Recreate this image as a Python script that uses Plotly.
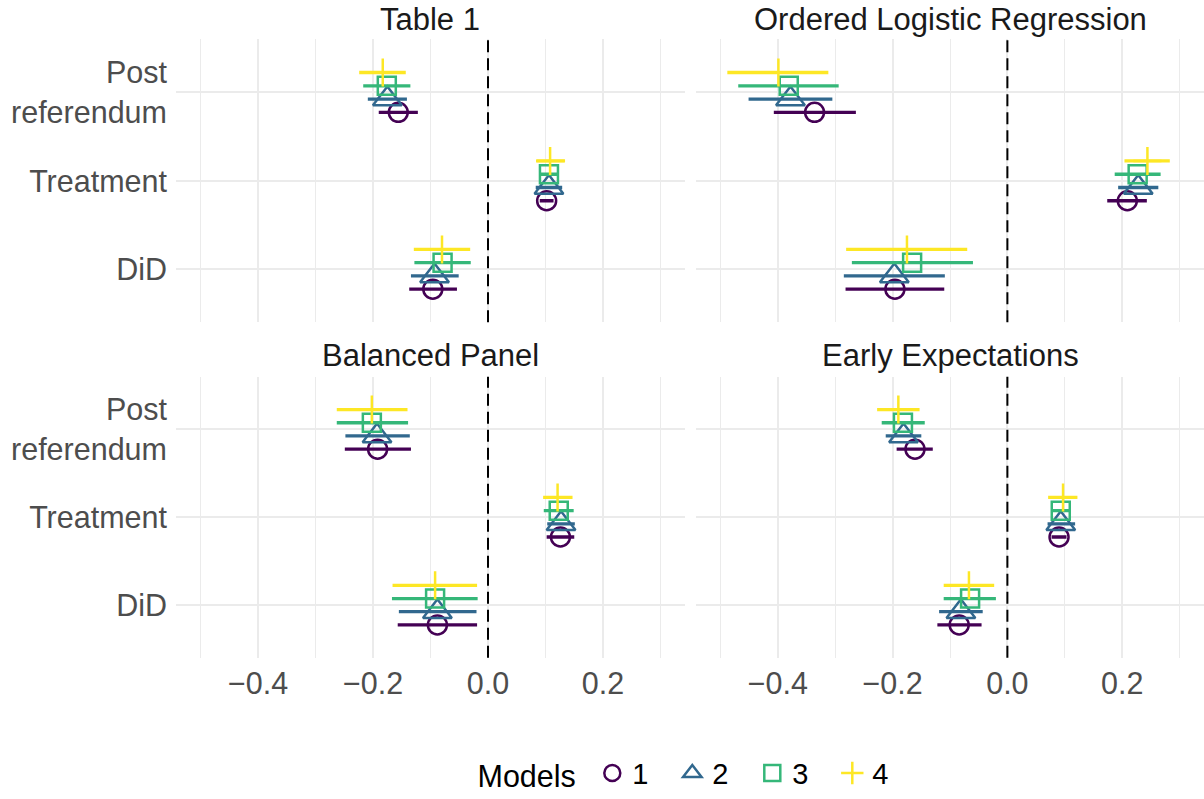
import plotly.graph_objects as go

# ---------------- data ----------------
categories = ["DiD", "Treatment", "Post<br>referendum"]   # bottom -> top
models = ["1", "2", "3", "4"]
panel_titles = ["Table 1", "Ordered Logistic Regression", "Balanced Panel", "Early Expectations"]

# each row = model, columns = [DiD, Treatment, Post referendum]
table1_est = [[-0.096, 0.102, -0.156], [-0.093, 0.106, -0.175], [-0.079, 0.106, -0.176], [-0.080, 0.108, -0.183]]
table1_lo = [[-0.137, 0.090, -0.190], [-0.134, 0.083, -0.209], [-0.128, 0.089, -0.217], [-0.129, 0.084, -0.224]]
table1_hi = [[-0.054, 0.114, -0.122], [-0.051, 0.129, -0.141], [-0.030, 0.123, -0.135], [-0.031, 0.134, -0.143]]

olr_est = [[-0.196, 0.209, -0.336], [-0.197, 0.228, -0.378], [-0.166, 0.227, -0.381], [-0.175, 0.244, -0.399]]
olr_lo = [[-0.282, 0.174, -0.407], [-0.285, 0.193, -0.451], [-0.271, 0.187, -0.469], [-0.281, 0.204, -0.488]]
olr_hi = [[-0.110, 0.243, -0.264], [-0.109, 0.263, -0.305], [-0.060, 0.267, -0.294], [-0.070, 0.283, -0.312]]

balanced_est = [[-0.088, 0.126, -0.192], [-0.088, 0.127, -0.193], [-0.092, 0.123, -0.202], [-0.092, 0.121, -0.202]]
balanced_lo = [[-0.157, 0.102, -0.249], [-0.155, 0.103, -0.248], [-0.167, 0.097, -0.263], [-0.166, 0.096, -0.263]]
balanced_hi = [[-0.019, 0.150, -0.134], [-0.020, 0.151, -0.136], [-0.018, 0.149, -0.139], [-0.019, 0.147, -0.140]]

early_est = [[-0.084, 0.090, -0.161], [-0.081, 0.093, -0.181], [-0.065, 0.093, -0.182], [-0.067, 0.097, -0.190]]
early_lo = [[-0.122, 0.077, -0.193], [-0.119, 0.070, -0.212], [-0.111, 0.076, -0.219], [-0.111, 0.071, -0.227]]
early_hi = [[-0.045, 0.103, -0.130], [-0.043, 0.118, -0.150], [-0.020, 0.110, -0.144], [-0.023, 0.122, -0.153]]

x_ticks = [-0.4, -0.2, 0.0, 0.2]
x_tick_labels = ["\u22120.4", "\u22120.2", "0.0", "0.2"]
x_minor = [-0.5, -0.3, -0.1, 0.1, 0.3]

# ---------------- style ----------------
colors = ["#440154", "#31688E", "#35B779", "#FDE725"]
symbols = ["circle-open", "triangle-up-open", "square-open", "cross-thin-open"]
sizes = [19, 25, 18, 20]
dodge = [-0.225, -0.075, 0.075, 0.225]
FONT = "Liberation Sans, Arial, sans-serif"
FS = 30.5

panels = [
    (table1_est, table1_lo, table1_hi),
    (olr_est, olr_lo, olr_hi),
    (balanced_est, balanced_lo, balanced_hi),
    (early_est, early_lo, early_hi),
]

W, H = 1204, 799
xdoms = [[176 / W, 685 / W], [696 / W, 1.0]]
ydoms = [[1 - 324.4 / H, 1 - 39.6 / H], [1 - 662 / H, 1 - 379 / H]]

fig = go.Figure()

for p, (est, lo, hi) in enumerate(panels):
    ax = "" if p == 0 else str(p + 1)
    for m in range(4):
        ys = [c + 1 + dodge[m] for c in range(len(categories))]
        fig.add_trace(go.Scatter(
            x=est[m], y=ys,
            xaxis="x" + ax, yaxis="y" + ax,
            mode="markers",
            name=models[m],
            legendgroup=models[m],
            showlegend=(p == 0),
            marker=dict(symbol=symbols[m], size=sizes[m], color=colors[m],
                        line=dict(color=colors[m], width=2.5)),
            error_x=dict(type="data", symmetric=False,
                         array=[h - e for h, e in zip(hi[m], est[m])],
                         arrayminus=[e - l for e, l in zip(est[m], lo[m])],
                         color=colors[m], thickness=3.3, width=0),
            hoverinfo="x+name",
        ))

layout = dict(
    width=W, height=H,
    margin=dict(l=0, r=0, t=0, b=0),
    paper_bgcolor="white", plot_bgcolor="white",
    font=dict(family=FONT, size=FS, color="#4D4D4D"),
    showlegend=True,
    legend=dict(
        orientation="h", x=694 / W, xanchor="center", y=1 - 778 / H, yanchor="middle",
        title=dict(text="Models ", font=dict(size=FS, color="black", family=FONT), side="left"),
        font=dict(size=29, color="black", family=FONT),
        itemsizing="trace",
        entrywidth=35, entrywidthmode="pixels",
        bgcolor="rgba(0,0,0,0)",
    ),
)

shapes = []
annotations = []
for p in range(4):
    r, c = divmod(p, 2)
    ax = "" if p == 0 else str(p + 1)
    layout["xaxis" + ax] = dict(
        domain=xdoms[c], range=[-0.5426, 0.3426], anchor="y" + ax,
        tickvals=x_ticks, ticktext=x_tick_labels,
        showticklabels=(r == 1), ticks="", showline=False, zeroline=False,
        showgrid=True, gridcolor="#EBEBEB", gridwidth=2,
        minor=dict(tickvals=x_minor, showgrid=True, gridcolor="#EBEBEB", gridwidth=1, ticks=""),
        tickfont=dict(size=FS, color="#4D4D4D", family=FONT),
        ticklabelstandoff=5,
        fixedrange=True,
    )
    layout["yaxis" + ax] = dict(
        domain=ydoms[r], range=[0.4, 3.6], anchor="x" + ax,
        tickvals=[1, 2, 3], ticktext=categories,
        showticklabels=(c == 0), ticks="", showline=False, zeroline=False,
        showgrid=True, gridcolor="#EBEBEB", gridwidth=2,
        tickfont=dict(size=FS, color="#4D4D4D", family=FONT),
        ticklabelstandoff=8,
        fixedrange=True,
    )
    shapes.append(dict(type="line", xref="x" + ax, yref="y" + ax + " domain",
                       x0=0, x1=0, y0=0, y1=1,
                       line=dict(color="black", width=2, dash="12px,6px"), layer="above"))
    ty = (1 - 20 / H) if r == 0 else (1 - 358 / H)
    annotations.append(dict(text=panel_titles[p], xref="paper", yref="paper",
                            x=(xdoms[c][0] + xdoms[c][1]) / 2, y=ty,
                            xanchor="center", yanchor="middle", showarrow=False,
                            font=dict(size=31, color="#1A1A1A", family=FONT)))

layout["shapes"] = shapes
layout["annotations"] = annotations
fig.update_layout(**layout)

fig.write_html("out.html")
